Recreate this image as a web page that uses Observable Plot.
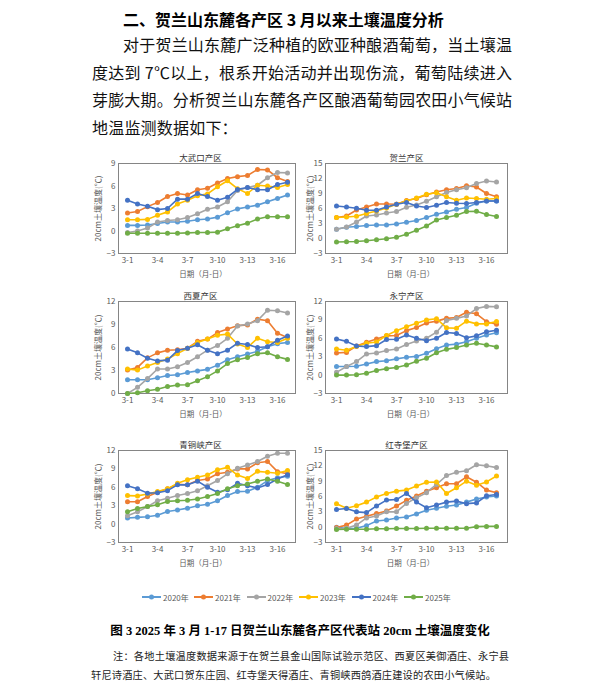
<!DOCTYPE html>
<html><head><meta charset="utf-8">
<script src="https://cdn.jsdelivr.net/npm/d3@7"></script>
<script src="https://cdn.jsdelivr.net/npm/@observablehq/plot@0.6"></script>
<style>
body{margin:0;background:#fff;}
#page{position:relative;width:600px;height:685px;overflow:hidden;font-family:"Noto Sans CJK SC",sans-serif;color:#111;background:#fff;}
.abs{position:absolute;line-height:1;}
.nw{white-space:nowrap;}
.just{text-align:justify;text-align-last:justify;}
.chart{position:absolute;}
.leg{position:absolute;display:flex;align-items:center;font-size:8px;color:#595959;white-space:nowrap;}
</style></head><body><div id="page"></div><script>
const days = ["3-1","3-2","3-3","3-4","3-5","3-6","3-7","3-8","3-9","3-10","3-11","3-12","3-13","3-14","3-15","3-16","3-17"];
const xTicks = ["3-1","3-4","3-7","3-10","3-13","3-16"];
const years = ["2020年","2021年","2022年","2023年","2024年","2025年"];
const colors = ["#5B9BD5","#ED7D31","#A5A5A5","#FFC000","#4472C4","#70AD47"];
const yTitle = "20cm土壤温度(℃)";
const xTitle = "日期（月-日）";

// 大武口产区
const dawukou = [
  [0.75,0.75,0.8,1.0,1.2,1.2,1.3,1.5,1.6,1.85,2.45,2.95,3.2,3.45,3.9,4.35,4.8],
  [2.4,2.6,3.25,3.8,4.6,5.0,4.8,5.5,5.7,6.4,7.0,7.25,7.4,8.2,8.15,7.1,6.6],
  [-0.2,0.0,0.4,1.2,1.4,1.5,1.8,2.3,2.9,3.2,3.9,5.4,5.8,6.1,7.1,7.8,7.75],
  [1.5,1.5,1.55,2.1,2.55,3.6,4.1,4.7,4.95,5.9,6.7,5.65,5.0,6.1,6.0,5.8,6.2],
  [4.1,3.6,3.3,2.85,3.0,4.25,4.25,5.0,4.6,4.1,4.5,5.55,5.8,5.5,5.5,6.2,6.5],
  [-0.3,-0.3,-0.3,-0.3,-0.3,-0.3,-0.25,-0.2,-0.2,-0.15,0.3,0.7,1.05,1.6,1.9,1.9,1.9]
];
// 贺兰产区
const helan = [
  [1.85,2.25,2.4,2.6,2.7,2.7,2.9,3.25,3.6,4.2,4.85,5.3,5.85,6.2,7.05,7.5,7.5],
  [4.2,4.5,5.7,6.3,6.9,6.9,6.85,7.6,8.0,8.75,9.3,9.75,10.0,10.55,10.3,9.0,8.35],
  [1.85,2.3,3.3,4.5,4.7,5.1,5.4,6.25,6.7,7.45,8.35,9.2,9.75,10.15,11.0,11.5,11.3],
  [4.2,4.3,4.45,5.0,5.5,6.1,6.85,7.5,8.1,8.85,9.15,8.35,7.65,8.1,8.0,7.85,8.0],
  [6.5,6.3,6.05,5.65,5.65,6.3,6.85,7.2,6.5,6.2,6.65,7.2,7.05,7.0,7.2,7.5,7.5],
  [-0.7,-0.65,-0.6,-0.45,-0.25,-0.05,0.25,0.85,1.65,2.5,3.7,4.2,4.65,5.4,5.45,4.8,4.4]
];
// 西夏产区
const xixia = [
  [1.8,1.8,1.8,2.05,2.35,2.45,2.75,2.95,3.15,3.7,4.4,4.8,5.15,5.5,6.1,6.5,6.65],
  [3.05,3.4,4.65,5.3,5.65,5.7,5.9,6.8,7.1,7.95,8.4,8.85,8.95,9.7,9.5,7.85,7.3],
  [0.0,0.8,1.95,3.2,3.2,3.5,4.05,4.8,5.65,6.25,7.2,8.8,9.05,9.5,10.85,10.8,10.5],
  [3.2,3.05,3.6,4.05,4.5,5.2,5.9,6.65,7.1,7.6,7.75,6.45,6.0,7.2,6.75,6.65,7.2],
  [5.8,5.3,4.6,4.25,4.35,5.6,5.9,6.35,5.65,5.2,5.65,6.55,6.4,6.0,6.1,6.95,7.5],
  [0.0,0.1,0.35,0.55,0.9,1.1,1.15,1.65,2.2,2.95,3.9,4.4,4.7,5.2,5.3,4.8,4.45]
];
// 永宁产区
const yongning = [
  [1.4,1.4,1.45,1.8,2.2,2.35,2.65,2.9,3.05,3.55,4.3,4.9,5.05,5.45,6.0,6.55,6.9],
  [3.6,3.7,4.75,5.35,5.9,6.4,6.45,7.25,7.75,8.5,8.8,9.25,9.4,10.25,10.0,8.7,8.3],
  [0.45,1.4,2.2,3.45,3.6,4.0,4.25,5.0,5.55,6.0,7.0,8.9,9.25,9.65,10.85,11.2,11.15],
  [4.25,4.05,4.65,5.2,5.4,6.45,7.25,7.9,8.45,9.0,9.2,7.7,7.65,8.8,8.35,8.35,8.75],
  [5.9,5.5,4.75,4.65,4.8,5.8,5.85,6.55,6.0,5.6,6.0,6.95,6.8,6.1,6.4,7.05,7.3],
  [0.0,0.0,0.05,0.3,0.75,1.05,1.25,1.65,2.25,2.75,3.65,4.2,4.5,4.9,5.2,4.9,4.6]
];
// 青铜峡产区
const qingtongxia = [
  [1.0,1.1,1.2,1.45,2.05,2.3,2.6,3.0,3.25,3.8,4.65,5.3,5.35,6.0,7.1,7.55,7.8],
  [3.65,3.65,4.5,5.2,5.75,6.5,6.4,7.1,7.35,8.2,8.45,9.0,9.0,10.0,10.2,8.55,8.2],
  [1.35,2.0,2.85,3.8,4.2,4.65,5.0,5.45,6.25,7.1,8.2,9.1,9.65,10.2,11.05,11.55,11.55],
  [4.65,4.6,4.9,5.3,5.75,6.65,7.25,7.65,8.0,8.85,9.25,8.0,7.45,8.6,8.45,8.3,8.75],
  [6.25,5.75,5.05,5.1,5.45,6.4,6.4,7.0,6.0,5.2,5.6,6.65,6.25,5.9,6.45,7.35,8.05],
  [2.0,2.55,2.85,3.15,3.7,3.8,3.9,4.1,4.5,5.0,5.75,6.25,6.55,7.0,7.35,7.0,6.45]
];
// 红寺堡产区
const hongsibao = [
  [0.0,-0.25,-0.2,0.3,1.2,1.4,1.8,2.0,2.6,3.3,3.7,4.1,4.35,4.9,5.5,5.9,6.1],
  [-0.05,0.4,1.6,2.15,2.65,3.15,4.15,5.25,6.1,7.05,7.7,8.5,8.5,9.85,8.8,7.25,6.75],
  [-0.25,-0.2,0.4,1.8,2.2,3.0,3.0,4.65,5.75,6.75,8.35,10.1,10.75,11.05,12.2,12.0,11.65],
  [4.6,3.7,4.2,4.9,5.9,6.6,7.05,7.25,8.05,8.8,8.85,6.6,7.7,9.0,8.2,8.85,10.0],
  [3.45,3.65,3.0,2.85,4.15,5.3,5.4,6.6,4.9,3.8,4.35,4.9,5.1,4.6,4.75,6.15,6.4],
  [-0.45,-0.4,-0.4,-0.4,-0.3,-0.3,-0.25,-0.25,-0.25,-0.2,-0.2,-0.2,-0.2,-0.2,0.1,0.15,0.15]
];

const yT1 = [-3,0,3,6,9];
const yT2 = [-3,0,3,6,9,12,15];
const yT3 = [0,3,6,9,12];
const yT4 = [-3,0,3,6,9,12];

const page = document.getElementById("page");
function addText(txt, x, yc, size, css = "", width = null) {
  const d = document.createElement("div");
  d.className = "abs" + (width ? " just" : " nw");
  d.textContent = txt;
  d.style.left = x + "px";
  d.style.top = (yc - size * 0.55) + "px";
  d.style.fontSize = size + "px";
  if (width) d.style.width = width + "px";
  d.style.cssText += css;
  page.appendChild(d);
}

addText("二、贺兰山东麓各产区 3 月以来土壤温度分析", 123, 20, 16, "font-weight:700;color:#000;");
addText("对于贺兰山东麓广泛种植的欧亚种酿酒葡萄，当土壤温", 123, 45, 16, "", 389);
addText("度达到 7℃以上，根系开始活动并出现伤流，葡萄陆续进入", 92, 73, 16, "", 420);
addText("芽膨大期。分析贺兰山东麓各产区酿酒葡萄园农田小气候站", 92, 100, 16, "", 420);
addText("地温监测数据如下：", 92, 128, 16, "letter-spacing:0.2px;");

const cols = [
  {x: 88, ml: 30, ldx: -20, tdx: -6.5, xdx: -4},
  {x: 300, ml: 25, ldx: -15, tdx: -10, xdx: -6}
];
const rows = [
  {y: 146, mt: 17, ph: 90},
  {y: 285, mt: 16, ph: 92},
  {y: 433, mt: 17, ph: 92}
];

function chart(title, series, yTicks, col, row) {
  const c = cols[col], r = rows[row];
  const mb = 36, mr = 8, W = 215;
  const H = r.mt + r.ph + mb;
  const marks = [Plot.frame({stroke: "#858585", strokeWidth: 1})];
  years.forEach((yr, i) => {
    const d = series[i].map((v, j) => ({year: yr, day: days[j], value: v}));
    marks.push(Plot.line(d, {x: "day", y: "value", stroke: "year", strokeWidth: 1.6}));
    marks.push(Plot.dot(d, {x: "day", y: "value", fill: "year", r: 2.5}));
  });
  marks.push(Plot.axisX({ticks: xTicks, tickSize: 0, tickPadding: 4, label: null}));
  marks.push(Plot.axisY({ticks: yTicks, tickSize: 0, tickPadding: 3, label: null}));
  marks.push(Plot.text([title], {text: d => d, frameAnchor: "top", dy: -9, dx: c.tdx, fontSize: 8.5, fill: "#333", textAnchor: "middle"}));
  marks.push(Plot.text([xTitle], {text: d => d, frameAnchor: "bottom", dy: 23, dx: c.xdx, fontSize: 7.5, fill: "#595959", textAnchor: "middle"}));
  marks.push(Plot.text([yTitle], {text: d => d, frameAnchor: "left", dx: c.ldx, rotate: -90, fontSize: 8, fill: "#595959", textAnchor: "middle", lineAnchor: "middle"}));
  const svg = Plot.plot({
    width: W, height: H,
    marginLeft: c.ml, marginRight: mr, marginTop: r.mt, marginBottom: mb,
    x: {type: "point", domain: days, padding: 0.5},
    y: {domain: [yTicks[0], yTicks[yTicks.length - 1]]},
    color: {domain: years, range: colors},
    style: {background: "transparent", overflow: "visible", fontSize: "8px", fontFamily: "'Noto Sans CJK SC', sans-serif", color: "#595959"},
    marks
  });
  const wrap = document.createElement("div");
  wrap.className = "chart";
  wrap.style.left = c.x + "px";
  wrap.style.top = r.y + "px";
  wrap.appendChild(svg);
  page.appendChild(wrap);
}

chart("大武口产区", dawukou, yT1, 0, 0);
chart("贺兰产区", helan, yT2, 1, 0);
chart("西夏产区", xixia, yT3, 0, 1);
chart("永宁产区", yongning, yT4, 1, 1);
chart("青铜峡产区", qingtongxia, yT4, 0, 2);
chart("红寺堡产区", hongsibao, yT2, 1, 2);

// legend
const legX = [142, 194, 246.5, 299, 351.5, 404];
years.forEach((yr, i) => {
  const d = document.createElement("div");
  d.className = "leg";
  d.style.left = legX[i] + "px";
  d.style.top = (597 - 5) + "px";
  d.style.height = "10px";
  d.innerHTML = `<svg width="19" height="10" style="margin-right:2px"><line x1="0" y1="5" x2="19" y2="5" stroke="${colors[i]}" stroke-width="2"/><circle cx="9.5" cy="5" r="2.5" fill="${colors[i]}"/></svg><span>${yr}</span>`;
  page.appendChild(d);
});

// caption
const cap = document.createElement("div");
cap.className = "abs nw";
cap.style.cssText += "left:0;width:600px;text-align:center;font-weight:700;font-size:12.5px;color:#000;font-family:'Liberation Serif','Noto Sans CJK SC',serif;";
cap.style.top = (632 - 7) + "px";
cap.textContent = "图 3  2025 年 3 月 1-17 日贺兰山东麓各产区代表站 20cm 土壤温度变化";
page.appendChild(cap);

addText("注：各地土壤温度数据来源于在贺兰县金山国际试验示范区、西夏区美御酒庄、永宁县", 113, 657, 10.2, "color:#222;", 396);
addText("轩尼诗酒庄、大武口贺东庄园、红寺堡天得酒庄、青铜峡西鸽酒庄建设的农田小气候站。", 91, 676, 10.2, "color:#222;letter-spacing:0.2px;");
</script></body></html>
